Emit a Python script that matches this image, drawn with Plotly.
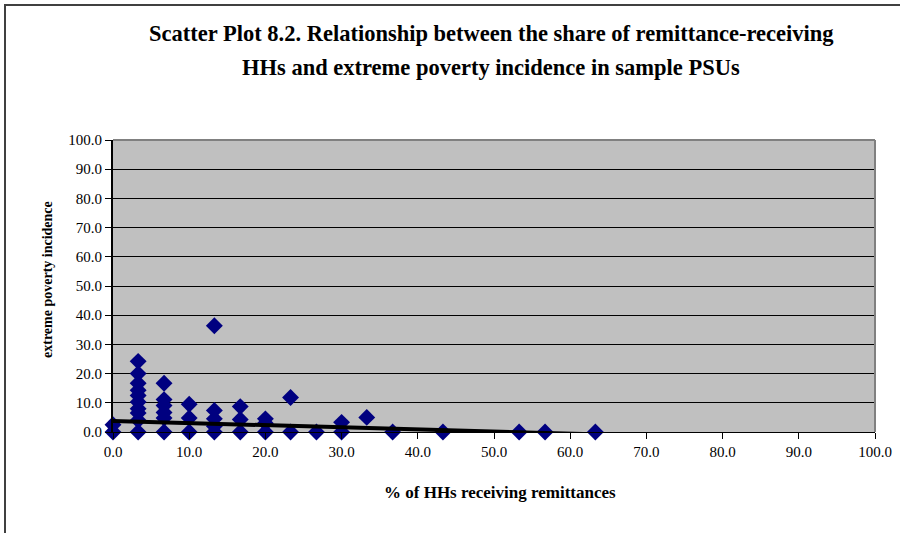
import plotly.graph_objects as go

# Share of HHs receiving remittances (%) and extreme poverty incidence (%) per PSU
remit_share = [0.0, 0.0,
               3.3, 3.3, 3.3, 3.3, 3.3, 3.3, 3.3, 3.3, 3.3, 3.3,
               6.7, 6.7, 6.7, 6.7, 6.7, 6.7,
               10.0, 10.0, 10.0,
               13.3, 13.3, 13.3, 13.3, 13.3,
               16.7, 16.7, 16.7,
               20.0, 20.0, 20.0,
               23.3, 23.3,
               26.7,
               30.0, 30.0,
               33.3,
               36.7, 43.3, 53.3, 56.7, 63.3]
poverty_inc = [2.5, 0.0,
               24.2, 20.0, 16.7, 14.3, 12.5, 10.3, 8.0, 6.5, 4.0, 0.0,
               16.7, 11.1, 9.1, 6.7, 4.8, 0.0,
               9.5, 4.8, 0.0,
               36.4, 7.4, 4.5, 2.0, 0.0,
               8.7, 4.3, 0.0,
               4.5, 3.0, 0.0,
               11.8, 0.0,
               0.0,
               3.3, 0.0,
               5.0,
               0.0, 0.0, 0.0, 0.0, 0.0]

# Linear trend line end points
trend_x = [0.0, 63.3]
trend_y = [3.8, -0.8]

tick_vals = [0, 10, 20, 30, 40, 50, 60, 70, 80, 90, 100]

FONT = "Liberation Serif"
L, R, T, B = 113, 875, 140, 432
PW, PH = R - L, B - T


def px_x(x):
    return (x - L) / PW


def px_y(y):
    return (B - y) / PH


fig = go.Figure()
fig.add_trace(go.Scatter(
    x=remit_share, y=poverty_inc, mode="markers",
    marker=dict(symbol="diamond", size=13, color="#000080",
                line=dict(width=0)),
    cliponaxis=False, showlegend=False))
fig.add_trace(go.Scatter(
    x=trend_x, y=trend_y, mode="lines",
    line=dict(color="black", width=4), showlegend=False))

fig.update_layout(
    width=900, height=533,
    margin=dict(l=L, r=900 - R, t=T, b=533 - B, autoexpand=False),
    paper_bgcolor="white", plot_bgcolor="#C0C0C0",
    font=dict(family=FONT, size=15, color="black"),
    showlegend=False,
)
fig.update_xaxes(
    range=[0, 100], tickvals=tick_vals, tickformat=".1f",
    showgrid=False, zeroline=False,
    showline=True, linecolor="black", linewidth=1,
    ticks="outside", ticklen=6, tickcolor="black",
    tickfont=dict(family=FONT, size=15),
)
fig.update_yaxes(
    range=[0, 100], tickvals=tick_vals, tickformat=".1f",
    showgrid=True, gridcolor="black", gridwidth=1, zeroline=False,
    showline=True, linecolor="black", linewidth=2,
    ticks="outside", ticklen=6, tickcolor="black",
    tickfont=dict(family=FONT, size=15),
)

# plot area border (top/right) in gray
fig.add_shape(type="line", xref="paper", yref="paper", x0=0, x1=1, y0=1, y1=1,
              line=dict(color="#808080", width=2))
fig.add_shape(type="line", xref="paper", yref="paper", x0=1, x1=1, y0=0, y1=1,
              line=dict(color="#808080", width=2))

# outer chart frame (left and top visible)
fig.add_shape(type="rect", xref="paper", yref="paper",
              x0=px_x(5), x1=px_x(960), y0=px_y(600), y1=px_y(5),
              line=dict(color="#404040", width=2), layer="below")

fig.add_annotation(
    text="<b>Scatter Plot 8.2. Relationship between the share of remittance-receiving</b>",
    xref="paper", yref="paper", x=px_x(491), y=px_y(33),
    showarrow=False, font=dict(family=FONT, size=22.5), xanchor="center", yanchor="middle")
fig.add_annotation(
    text="<b>HHs and extreme poverty incidence in sample PSUs</b>",
    xref="paper", yref="paper", x=px_x(491), y=px_y(68),
    showarrow=False, font=dict(family=FONT, size=22.5), xanchor="center", yanchor="middle")
fig.add_annotation(
    text="<b>% of HHs receiving remittances</b>",
    xref="paper", yref="paper", x=px_x(500), y=px_y(492),
    showarrow=False, font=dict(family=FONT, size=17), xanchor="center", yanchor="middle")
fig.add_annotation(
    text="<b>extreme poverty incidence</b>",
    xref="paper", yref="paper", x=px_x(47), y=px_y(280), textangle=-90,
    showarrow=False, font=dict(family=FONT, size=14), xanchor="center", yanchor="middle")

fig.write_html("out.html", config={"displayModeBar": False},
               post_script="document.body.style.margin='0px';")
